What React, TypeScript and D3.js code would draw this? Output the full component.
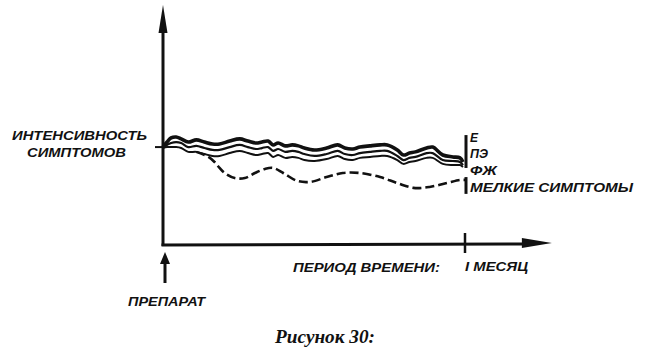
import React from "react";
import * as d3 from "d3";

// Time in days (1 month = 30 days); intensity on an arbitrary 0–100 scale
const days = [0, 0.4, 0.8, 1.3, 1.8, 2.5, 3.3, 4.1, 4.9, 5.6, 6.6, 7.6, 8.4, 9.2, 9.8, 10.4, 10.9, 11.4, 12.1, 12.8, 13.4, 14.0, 15.0, 16.2, 17.3, 18.0, 18.8, 19.5, 20.5, 21.5, 22.2, 23.2, 23.8, 24.4, 25.0, 26.1, 26.7, 27.7, 28.7, 29.4, 29.7];
const seriesE = [40.8, 42.9, 44.6, 45.0, 44.2, 42.9, 43.8, 42.9, 42.1, 42.1, 43.3, 44.2, 43.3, 42.5, 42.9, 43.3, 41.7, 42.5, 41.3, 41.7, 41.3, 40.4, 39.6, 40.4, 41.7, 40.4, 40.0, 40.8, 41.3, 41.7, 41.7, 39.6, 37.5, 38.3, 38.8, 40.4, 40.8, 37.5, 36.7, 36.3, 34.6];
const seriesPE = [40.8, 41.7, 42.5, 42.9, 42.5, 40.8, 41.3, 40.4, 39.6, 39.6, 40.8, 41.7, 40.8, 40.0, 40.4, 40.8, 39.2, 40.0, 38.8, 39.2, 38.8, 37.9, 37.1, 37.9, 39.2, 37.9, 37.5, 38.3, 38.8, 39.2, 39.2, 37.1, 35.4, 36.3, 36.7, 38.3, 38.3, 35.4, 35.0, 34.6, 33.3];
const seriesFZ = [40.4, 40.8, 40.8, 40.8, 40.4, 38.8, 38.8, 37.9, 37.1, 37.1, 38.3, 39.2, 38.3, 37.5, 37.9, 38.3, 36.7, 37.5, 36.3, 36.7, 36.3, 35.4, 35.0, 35.8, 37.1, 35.8, 35.4, 36.3, 36.7, 37.1, 37.1, 35.4, 33.8, 34.6, 35.0, 36.3, 36.3, 33.8, 33.3, 33.3, 32.5];
const minorDays = [3.3, 3.9, 4.5, 5.1, 5.6, 6.1, 7.1, 8.1, 9.1, 10.1, 10.9, 11.9, 13.3, 14.6, 16.2, 17.8, 19.5, 21.5, 23.2, 24.8, 26.4, 28.1, 29.4, 30];
const minorValues = [38.8, 37.9, 36.7, 34.6, 32.1, 30.0, 27.9, 27.9, 30.0, 31.7, 32.1, 30.0, 26.7, 26.3, 28.3, 30.0, 30.0, 28.3, 25.8, 23.8, 24.2, 25.8, 27.1, 27.1];

const seriesLabels = ["Е", "ПЭ", "ФЖ", "МЕЛКИЕ СИМПТОМЫ"];
const yLabelLines = ["ИНТЕНСИВНОСТЬ", "СИМПТОМОВ"];
const xLabel = "ПЕРИОД ВРЕМЕНИ:";
const monthLabel = "I МЕСЯЦ";
const drugLabel = "ПРЕПАРАТ";
const caption = "Рисунок 30:";

const MONTH = 30;
const START_LEVEL = 40.8;

export default function App() {
  const W = 652, H = 362;
  const x = d3.scaleLinear().domain([0, 30]).range([163, 466]);
  const y = d3.scaleLinear().domain([0, 100]).range([245, 5]);
  const x0 = x(0), y0 = y(0);
  const xEnd = x(38.5);
  const yTop = y(100);

  const line = (xs: number[], vs: number[]) =>
    d3.line<number>()
      .x((_, i) => x(xs[i]))
      .y((v) => y(v))
      .curve(d3.curveCatmullRom.alpha(0.5))(vs) as string;

  const sans = "'Liberation Sans', Arial, sans-serif";
  const tStyle = { fontFamily: sans, fontStyle: "italic", fontWeight: 700, fill: "#111" } as const;
  const mx = x(MONTH);

  return (
    <svg width={W} height={H} style={{ position: "absolute", left: 0, top: 0, background: "#fff" }}>
      {/* y axis */}
      <line x1={x0} x2={x0} y1={y0 + 1} y2={yTop + 20} stroke="#111" strokeWidth={3} />
      <path d={`M${x0},${yTop} L${x0 + 4.5},${yTop + 28} L${x0 - 4.5},${yTop + 28} Z`} fill="#111" />
      {/* x axis */}
      <line x1={x0 - 1.5} x2={xEnd - 20} y1={y0} y2={y0 - 1} stroke="#111" strokeWidth={3} />
      <path d={`M${xEnd},${y0 - 2} L${xEnd - 30},${y0 - 7} L${xEnd - 30},${y0 + 3} Z`} fill="#111" />
      {/* month tick */}
      <line x1={mx - 1} x2={mx - 1} y1={y0 - 12} y2={y0 + 8} stroke="#111" strokeWidth={2.5} />
      {/* start level tick */}
      <line x1={x0 - 8} x2={x0} y1={y(START_LEVEL)} y2={y(START_LEVEL)} stroke="#111" strokeWidth={2} />
      {/* drug arrow */}
      <line x1={x0 + 2} x2={x0 + 2} y1={y0 + 38} y2={y0 + 15} stroke="#111" strokeWidth={3} />
      <path d={`M${x0 + 2},${y0 + 7} L${x0 + 7},${y0 + 19} L${x0 - 3},${y0 + 19} Z`} fill="#111" />

      {/* series */}
      <path d={line(days, seriesFZ)} fill="none" stroke="#111" strokeWidth={2} />
      <path d={line(days, seriesPE)} fill="none" stroke="#111" strokeWidth={2.2} />
      <path d={line(days, seriesE)} fill="none" stroke="#111" strokeWidth={3.6} />
      <path d={line(minorDays, minorValues)} fill="none" stroke="#111" strokeWidth={2.6} strokeDasharray="9 4" />

      {/* month marker */}
      <line x1={mx} x2={mx} y1={y(45.8)} y2={y(32.1)} stroke="#111" strokeWidth={3} />
      <line x1={mx} x2={mx} y1={y(28.3)} y2={y(21.3)} stroke="#111" strokeWidth={3} />

      {/* labels */}
      <text x={12} y={140} fontSize={13.5} textLength={135} lengthAdjust="spacingAndGlyphs" style={tStyle}>{yLabelLines[0]}</text>
      <text x={27} y={157} fontSize={13.5} textLength={99} lengthAdjust="spacingAndGlyphs" style={tStyle}>{yLabelLines[1]}</text>

      <text x={470} y={142} fontSize={12} style={tStyle}>{seriesLabels[0]}</text>
      <text x={470} y={158} fontSize={12} textLength={18} lengthAdjust="spacingAndGlyphs" style={tStyle}>{seriesLabels[1]}</text>
      <text x={470} y={175} fontSize={12} textLength={27} lengthAdjust="spacingAndGlyphs" style={tStyle}>{seriesLabels[2]}</text>
      <text x={470} y={192} fontSize={12} textLength={163} lengthAdjust="spacingAndGlyphs" style={tStyle}>{seriesLabels[3]}</text>

      <text x={293} y={272} fontSize={13} textLength={147} lengthAdjust="spacingAndGlyphs" style={tStyle}>{xLabel}</text>
      <text x={465} y={271} fontSize={13} textLength={63} lengthAdjust="spacingAndGlyphs" style={tStyle}>{monthLabel}</text>
      <text x={128} y={306} fontSize={13} textLength={77} lengthAdjust="spacingAndGlyphs" style={tStyle}>{drugLabel}</text>

      <text x={275} y={343} fontSize={18} textLength={100} lengthAdjust="spacingAndGlyphs"
        style={{ fontFamily: "'Liberation Serif', 'Times New Roman', serif", fontStyle: "italic", fontWeight: 700, fill: "#111" }}>
        {caption}
      </text>
    </svg>
  );
}
